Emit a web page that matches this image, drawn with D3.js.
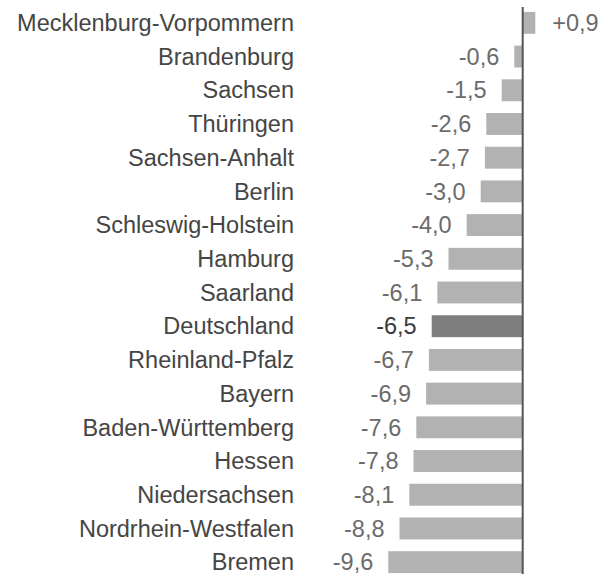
<!DOCTYPE html>
<html>
<head>
<meta charset="utf-8">
<script src="https://cdn.jsdelivr.net/npm/d3@7"></script>
<style>
  body { margin: 0; background: #fff; }
  svg { display: block; }
  text { font-family: "Liberation Sans", Arial, sans-serif; }
</style>
</head>
<body>
<div id="chart"></div>
<script>
// data, top to bottom
var laender = ['Mecklenburg-Vorpommern', 'Brandenburg', 'Sachsen', 'Thüringen', 'Sachsen-Anhalt',
  'Berlin', 'Schleswig-Holstein', 'Hamburg', 'Saarland', 'Deutschland', 'Rheinland-Pfalz',
  'Bayern', 'Baden-Württemberg', 'Hessen', 'Niedersachsen', 'Nordrhein-Westfalen', 'Bremen'];
var werte = [0.9, -0.6, -1.5, -2.6, -2.7, -3.0, -4.0, -5.3, -6.1, -6.5, -6.7, -6.9, -7.6, -7.8, -8.1, -8.8, -9.6];
var highlight = 'Deutschland';

var width = 603, height = 574;

var svg = d3.select('#chart').append('svg')
  .attr('width', width)
  .attr('height', height);

var rows = laender.map(function(d, i) { return { name: d, value: werte[i] }; });

var y = d3.scaleBand()
  .domain(laender)
  .range([6, 579])
  .paddingInner(0.35)
  .paddingOuter(0.175);

var x = d3.scaleLinear()
  .domain([-10, 1])
  .range([382.7, 536.7]);

var fmt = function(v) {
  var s = Math.abs(v).toFixed(1).replace('.', ',');
  return (v > 0 ? '+' : '-') + s;
};

// bars
svg.selectAll('rect.bar')
  .data(rows)
  .enter().append('rect')
    .attr('class', 'bar')
    .attr('x', function(d) { return x(Math.min(0, d.value)); })
    .attr('y', function(d) { return y(d.name); })
    .attr('width', function(d) { return Math.abs(x(d.value) - x(0)); })
    .attr('height', y.bandwidth())
    .attr('fill', function(d) { return d.name === highlight ? '#7f7f7f' : '#b2b2b2'; });

// zero line
svg.append('line')
  .attr('x1', x(0)).attr('x2', x(0))
  .attr('y1', 7).attr('y2', height)
  .attr('stroke', '#555')
  .attr('stroke-width', 2);

// category labels
svg.selectAll('text.cat')
  .data(rows)
  .enter().append('text')
    .attr('class', 'cat')
    .attr('x', 294)
    .attr('y', function(d) { return y(d.name) + y.bandwidth() / 2; })
    .attr('dy', '0.35em')
    .attr('text-anchor', 'end')
    .attr('font-size', 23.5)
    .attr('fill', '#454545')
    .text(function(d) { return d.name; });

// value labels
svg.selectAll('text.val')
  .data(rows)
  .enter().append('text')
    .attr('class', 'val')
    .attr('x', function(d) { return d.value < 0 ? x(d.value) - 15 : x(d.value) + 17; })
    .attr('y', function(d) { return y(d.name) + y.bandwidth() / 2; })
    .attr('dy', '0.35em')
    .attr('text-anchor', function(d) { return d.value < 0 ? 'end' : 'start'; })
    .attr('font-size', 23.5)
    .attr('fill', function(d) { return d.name === highlight ? '#3a3a3a' : '#6b6b6b'; })
    .text(function(d) { return fmt(d.value); });
</script>
</body>
</html>
